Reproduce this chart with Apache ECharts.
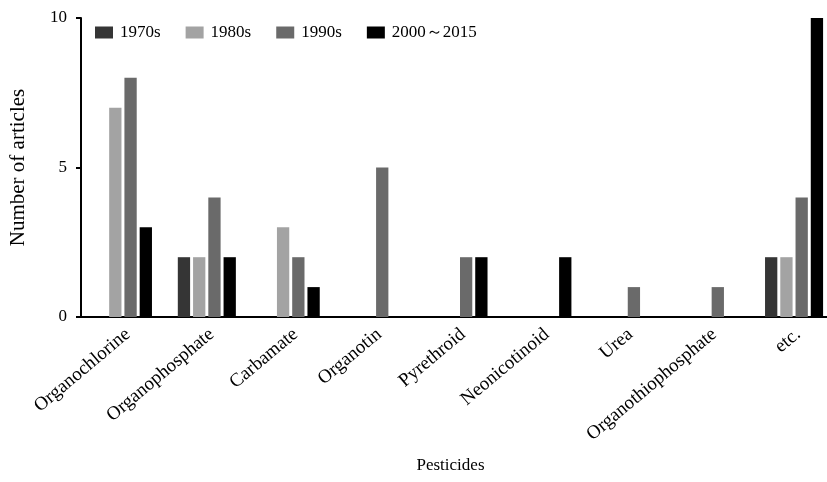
<!DOCTYPE html>
<html>
<head>
<meta charset="utf-8">
<script src="https://cdn.jsdelivr.net/npm/echarts@6/dist/echarts.min.js"></script>
<style>html,body{margin:0;padding:0;background:#fff;overflow:hidden;width:827px;height:482px;}#c{width:840px;height:482px;}</style>
</head>
<body>
<div id="c"></div>
<script>
const categories = ['Organochlorine','Organophosphate','Carbamate','Organotin','Pyrethroid','Neonicotinoid','Urea','Organothiophosphate','etc.'];
const seriesNames = ['1970s','1980s','1990s','2000～2015'];
const s1970 = [0,2,0,0,0,0,0,0,2];
const s1980 = [7,2,3,0,0,0,0,0,2];
const s1990 = [8,4,2,5,2,0,1,1,4];
const s2000 = [3,2,1,0,2,2,0,0,10];
const yTicks = [0,5,10];
const colors = ['#353535','#a3a3a3','#6a6a6a','#000000'];

const font = 'Liberation Serif, Times New Roman, serif';
const allData = [s1970, s1980, s1990, s2000];
const chart = echarts.init(document.getElementById('c'));
chart.setOption({
  animation: false,
  textStyle: {fontFamily: font, color: '#000'},
  legend: {
    left: 95, top: 24, padding: 0,
    icon: 'rect',
    itemWidth: 18, itemHeight: 12, itemGap: 25,
    textStyle: {fontFamily: font, fontSize: 17, color: '#000', padding: [0,0,0,2]},
    data: seriesNames
  },
  grid: [
    {left: 76, right: 4, top: 18, bottom: 165, containLabel: false},
    {left: 86, right: -6, top: 18, bottom: 165, containLabel: false}
  ],
  xAxis: [{
    type: 'category',
    gridIndex: 0,
    data: categories,
    axisLine: {lineStyle: {color: '#000', width: 2}},
    axisTick: {show: false},
    axisLabel: {show: false},
    name: 'Pesticides', nameLocation: 'middle', nameGap: 140,
    nameTextStyle: {fontFamily: font, fontSize: 17, color: '#000', padding: [0, 16, 0, 0]}
  }, {
    type: 'category',
    gridIndex: 1,
    data: categories,
    axisLine: {show: false},
    axisTick: {show: false},
    axisLabel: {rotate: 40, interval: 0, fontFamily: font, fontSize: 19, color: '#000', margin: 15}
  }],
  yAxis: [{
    type: 'value', min: 0, max: 10, interval: 5,
    gridIndex: 0,
    splitLine: {show: false},
    axisLine: {show: true, lineStyle: {color: '#000', width: 2}},
    axisTick: {show: true, length: 5, lineStyle: {color: '#000', width: 2}},
    axisLabel: {fontFamily: font, fontSize: 17, color: '#000', margin: 14,
      formatter: v => yTicks.includes(v) ? String(v) : ''},
    name: 'Number of articles', nameLocation: 'middle', nameGap: 52,
    nameTextStyle: {fontFamily: font, fontSize: 21, color: '#000'}
  }, {
    type: 'value', min: 0, max: 10, interval: 5, gridIndex: 1, show: false
  }],
  series: seriesNames.map((n, i) => ({
    name: n, type: 'bar', data: allData[i],
    xAxisIndex: 0, yAxisIndex: 0,
    barWidth: 12.3, barGap: '24%',
    itemStyle: {color: colors[i]}
  }))
});
</script>
</body>
</html>
